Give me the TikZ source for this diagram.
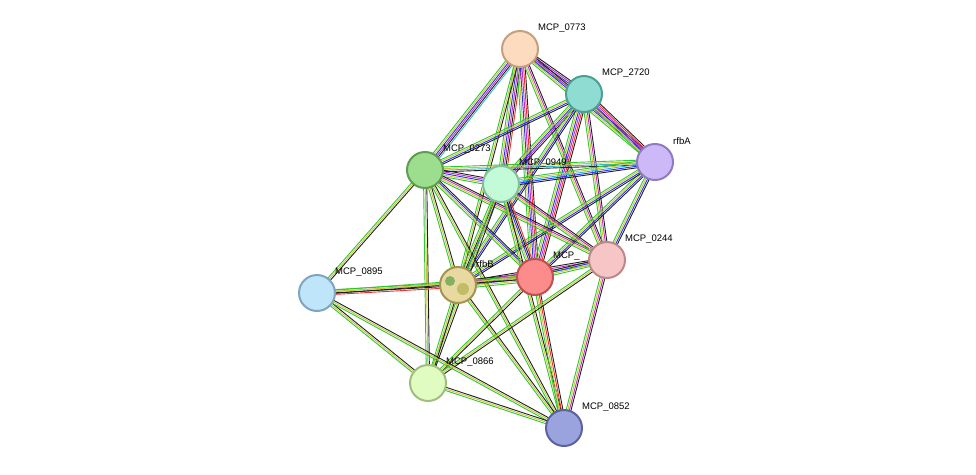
\documentclass[tikz,border=0pt]{standalone}
\usepackage{fontspec}
\setmainfont{Liberation Sans}
\usetikzlibrary{calc}
\definecolor{tg}{HTML}{33C433}
\definecolor{ty}{HTML}{C8C83C}
\definecolor{tk}{HTML}{202020}
\definecolor{tb}{HTML}{3030F0}
\definecolor{tm}{HTML}{C030C0}
\definecolor{tr}{HTML}{F03030}
\definecolor{tc}{HTML}{30B8C8}
\newcommand\bundle[3]{%
  \def\nn{0}%
  \foreach \cc in {#3}{\xdef\nn{\the\numexpr\nn+1\relax}}%
  \foreach \cc [count=\ii] in {#3}{%
    \pgfmathsetmacro\oo{(\ii-1-(\nn-1)/2)*1.6}%
    \draw[\cc, line width=0.9pt] ($(#1)!\oo pt!90:(#2)$) -- ($(#2)!\oo pt!-90:(#1)$);
  }}
\tikzset{prot/.style={circle, minimum size=36pt, inner sep=0pt, line width=2pt},
  lab/.style={anchor=west, font=\fontsize{9.5pt}{10pt}\selectfont, inner sep=0pt}}
\begin{document}
\begin{tikzpicture}[x=1pt,y=-1pt]
\useasboundingbox (0,0) rectangle (976,474);
\coordinate (p0773) at (520,49);
\coordinate (p2720) at (584,94);
\coordinate (prfbA) at (655,162);
\coordinate (p0273) at (425,170);
\coordinate (p0949) at (501,184);
\coordinate (p0244) at (607,260);
\coordinate (pred) at (535,277);
\coordinate (prfbB) at (458,285);
\coordinate (p0895) at (317,293);
\coordinate (p0866) at (428,383);
\coordinate (p0852) at (564,428);
% edges
\bundle{p0773}{p2720}{tg,ty,tb,tm,tk}
\bundle{p0773}{prfbA}{tg,ty,tb,tm,tk}
\bundle{p0773}{p0273}{tg,ty,tb,tm,tk,tc}
\bundle{p0773}{p0949}{tg,ty,tb,tm,tk,tr}
\bundle{p0773}{pred}{tg,ty,tb,tm,tr,tk}
\bundle{p0773}{p0244}{tg,ty,tm,tk}
\bundle{p0773}{prfbB}{tg,ty,tk}
\bundle{p2720}{prfbA}{tg,ty,tb,tm,tr,tk}
\bundle{p2720}{p0273}{tg,ty,tb,tk}
\bundle{p2720}{p0949}{tg,ty,tb,tm,tk}
\bundle{p2720}{pred}{tg,ty,tb,tm,tr,tk}
\bundle{p2720}{p0244}{tg,ty,tm,tk}
\bundle{p2720}{prfbB}{tg,ty,tb,tk}
\bundle{prfbA}{p0273}{tg,ty,tc,tk}
\bundle{prfbA}{p0949}{tg,ty,tc,tb,tk}
\bundle{prfbA}{pred}{tg,ty,tb,tk}
\bundle{prfbA}{p0244}{tg,ty,tb,tk}
\bundle{prfbA}{prfbB}{tg,ty,tb,tk}
\bundle{p0273}{p0949}{tg,ty,tb,tm,tk}
\bundle{p0273}{p0244}{tg,ty,tm,tk}
\bundle{p0273}{pred}{tg,ty,tb,tk}
\bundle{p0273}{prfbB}{tg,ty,tk}
\bundle{p0273}{p0895}{tg,ty,tk}
\bundle{p0273}{p0866}{tg,ty,tk}
\bundle{p0273}{p0852}{tg,ty,tk}
\bundle{p0949}{prfbB}{tg,ty,tk,tb}
\bundle{p0949}{pred}{tg,ty,tb,tk,tr}
\bundle{p0949}{p0244}{tg,ty,tm,tk}
\bundle{p0949}{p0866}{tg,ty,tk}
\bundle{p0949}{p0852}{tg,ty,tk}
\bundle{prfbB}{pred}{tg,ty,tb,tm,tr,tk}
\bundle{prfbB}{p0244}{tg,ty,tm,tk}
\bundle{prfbB}{p0895}{tg,ty,tk,tr}
\bundle{prfbB}{p0866}{tg,ty,tk}
\bundle{prfbB}{p0852}{tg,ty,tk}
\bundle{pred}{p0244}{tg,ty,tb,tk}
\bundle{pred}{p0895}{tg,ty,tk}
\bundle{pred}{p0866}{tg,ty,tk}
\bundle{pred}{p0852}{tg,ty,tr,tk}
\bundle{p0244}{p0852}{tg,ty,tm,tk}
\bundle{p0244}{p0866}{tg,ty,tk}
\bundle{p0895}{p0866}{tg,ty,tk}
\bundle{p0895}{p0852}{tg,ty,tk}
\bundle{p0866}{p0852}{tg,ty,tk}
% nodes
\node[prot, fill={rgb,255:red,253;green,219;blue,191}, draw={rgb,255:red,196;green,160;blue,128}] (n0773) at (p0773) {};
\node[prot, fill={rgb,255:red,143;green,221;blue,210}, draw={rgb,255:red,79;green,158;blue,148}] (n2720) at (p2720) {};
\node[prot, fill={rgb,255:red,205;green,185;blue,247}, draw={rgb,255:red,144;green,123;blue,192}] (nrfbA) at (prfbA) {};
\node[prot, fill={rgb,255:red,157;green,221;blue,142}, draw={rgb,255:red,94;green,158;blue,80}] (n0273) at (p0273) {};
\node[prot, fill={rgb,255:red,195;green,251;blue,217}, draw={rgb,255:red,132;green,190;blue,156}] (n0949) at (p0949) {};
\node[prot, fill={rgb,255:red,246;green,198;blue,198}, draw={rgb,255:red,190;green,136;blue,136}] (n0244) at (p0244) {};
\node[prot, fill={rgb,255:red,252;green,140;blue,140}, draw={rgb,255:red,192;green,80;blue,80}] (nred) at (pred) {};
\node[prot, fill={rgb,255:red,232;green,217;blue,160}, draw={rgb,255:red,164;green,148;blue,84}] (nrfbB) at (prfbB) {};
\node[prot, fill={rgb,255:red,191;green,229;blue,251}, draw={rgb,255:red,127;green,165;blue,192}] (n0895) at (p0895) {};
\node[prot, fill={rgb,255:red,224;green,252;blue,192}, draw={rgb,255:red,160;green,190;blue,128}] (n0866) at (p0866) {};
\node[prot, fill={rgb,255:red,154;green,163;blue,222}, draw={rgb,255:red,90;green,99;blue,160}] (n0852) at (p0852) {};
% rfbB structure hint
\fill[tg!70!black, opacity=0.5] ($(nrfbB)+(-8,-4)$) circle (5);
\fill[ty!80!black, opacity=0.5] ($(nrfbB)+(5,4)$) circle (6);
% labels
\node[lab] (l0773) at ($(n0773)+(18,-21)$) {MCP\_0773};
\node[lab] (l2720) at ($(n2720)+(18,-21)$) {MCP\_2720};
\node[lab] (lrfbA) at ($(nrfbA)+(18,-21)$) {rfbA};
\node[lab] (l0273) at ($(n0273)+(18,-21)$) {MCP\_0273};
\node[lab] (l0949) at ($(n0949)+(18,-21)$) {MCP\_0949};
\node[lab] (l0244) at ($(n0244)+(18,-21)$) {MCP\_0244};
\node[lab] (lred) at ($(nred)+(18,-21)$) {MCP\_};
\node[lab] (lrfbB) at ($(nrfbB)+(18,-21)$) {rfbB};
\node[lab] (l0895) at ($(n0895)+(18,-21)$) {MCP\_0895};
\node[lab] (l0866) at ($(n0866)+(18,-21)$) {MCP\_0866};
\node[lab] (l0852) at ($(n0852)+(18,-21)$) {MCP\_0852};
\end{tikzpicture}
\end{document}
